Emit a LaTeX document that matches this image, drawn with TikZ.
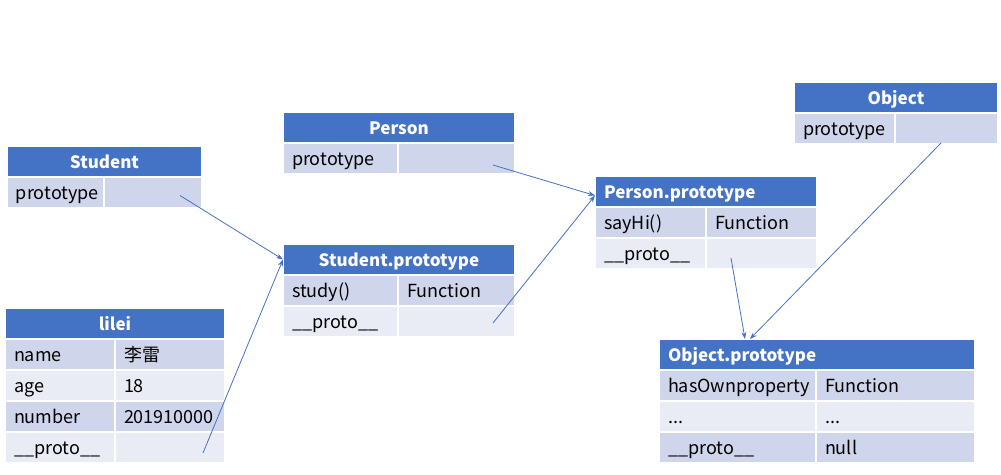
\documentclass[tikz,border=0pt]{standalone}
\usepackage{fontspec}
\setmainfont{Noto Sans CJK SC}
\usetikzlibrary{arrows.meta}

\definecolor{hdrblue}{HTML}{4472C4}
\definecolor{rowdark}{HTML}{CFD5EA}
\definecolor{rowlight}{HTML}{E9EBF5}

\begin{document}
\begin{tikzpicture}[
                x=1pt, y=-1pt,
                every node/.style={font=\fontsize{18}{21}\selectfont},
                cell/.style={draw=white, line width=2pt, anchor=north west, minimum height=31pt, outer sep=0pt,
                             inner xsep=9pt, inner ysep=0pt, text height=15.5pt, text depth=1.5pt,
                             text width=#1, align=left},
                hdr/.style={cell=#1, fill=hdrblue, text=white, font=\fontsize{17}{20}\selectfont\bfseries},
                dark/.style={cell=#1, fill=rowdark},
                light/.style={cell=#1, fill=rowlight},
                link/.style={draw=hdrblue, line width=0.8pt, -{Stealth[length=7pt,width=5pt]}}]

            \useasboundingbox (0,0) rectangle (1001,474);

            % Student
            \node[hdr=177, align=center] (stu-h) at (7,146) {Student};
            \node[dark=79] (stu-k1) at (stu-h.south west) {prototype};
            \node[dark=80] (stu-v1) at (stu-k1.north east) {};

            % Person
            \node[hdr=214, align=center] (per-h) at (283,112) {Person};
            \node[dark=97] (per-k1) at (per-h.south west) {prototype};
            \node[dark=99] (per-v1) at (per-k1.north east) {};

            % Object
            \node[hdr=186, align=center] (obj-h) at (794,82) {Object};
            \node[dark=83] (obj-k1) at (obj-h.south west) {prototype};
            \node[dark=85] (obj-v1) at (obj-k1.north east) {};

            % Student.prototype
            \node[hdr=214, align=center] (stp-h) at (283,244) {Student.prototype};
            \node[dark=97] (stp-k1) at (stp-h.south west) {study()};
            \node[dark=99] (stp-v1) at (stp-k1.north east) {Function};
            \node[light=97] (stp-k2) at (stp-k1.south west) {\_\_proto\_\_};
            \node[light=99] (stp-v2) at (stp-k2.north east) {};

            % Person.prototype
            \node[hdr=204] (pep-h) at (595,176) {Person.prototype};
            \node[dark=93] (pep-k1) at (pep-h.south west) {sayHi()};
            \node[dark=93] (pep-v1) at (pep-k1.north east) {Function};
            \node[light=93] (pep-k2) at (pep-k1.south west) {\_\_proto\_\_};
            \node[light=93] (pep-v2) at (pep-k2.north east) {};

            % Object.prototype
            \node[hdr=298] (obp-h) at (659,339) {Object.prototype};
            \node[dark=139] (obp-k1) at (obp-h.south west) {hasOwnproperty};
            \node[dark=141] (obp-v1) at (obp-k1.north east) {Function};
            \node[light=139] (obp-k2) at (obp-k1.south west) {...};
            \node[light=141] (obp-v2) at (obp-k2.north east) {...};
            \node[dark=139] (obp-k3) at (obp-k2.south west) {\_\_proto\_\_};
            \node[dark=141] (obp-v3) at (obp-k3.north east) {null};

            % lilei
            \node[hdr=202, align=center] (lil-h) at (5,308) {lilei};
            \node[dark=92] (lil-k1) at (lil-h.south west) {name};
            \node[dark=92] (lil-v1) at (lil-k1.north east) {李雷};
            \node[light=92] (lil-k2) at (lil-k1.south west) {age};
            \node[light=92] (lil-v2) at (lil-k2.north east) {18};
            \node[dark=92] (lil-k3) at (lil-k2.south west) {number};
            \node[dark=92] (lil-v3) at (lil-k3.north east) {201910000};
            \node[light=92] (lil-k4) at (lil-k3.south west) {\_\_proto\_\_};
            \node[light=92] (lil-v4) at (lil-k4.north east) {};

            % Zeiger
            \coordinate (stu-p) at ([xshift=27pt,yshift=-3pt]stu-v1.center);
            \coordinate (lil-p) at ([xshift=33pt,yshift=-5.5pt]lil-v4.center);
            \coordinate (per-p) at ([xshift=36.5pt,yshift=-6.5pt]per-v1.center);
            \coordinate (stp-p) at ([xshift=36.5pt,yshift=-1.5pt]stp-v2.center);
            \coordinate (pep-p) at ([xshift=-30.5pt,yshift=-4.5pt]pep-v2.center);
            \coordinate (obj-p) at ([xshift=-5.5pt,yshift=-14.5pt]obj-v1.center);

            \draw[link] (stu-p) -- (stp-h.west);
            \draw[link] (lil-p) -- (stp-h.west);
            \draw[link] (per-p) -- ([yshift=-4pt]pep-h.west);
            \draw[link] (stp-p) -- ([yshift=-4pt]pep-h.west);
            \draw[link] (pep-p) -- ([xshift=-72pt]obp-h.north);
            \draw[link] (obj-p) -- ([xshift=-67pt]obp-h.north);

        \end{tikzpicture}
\end{document}
